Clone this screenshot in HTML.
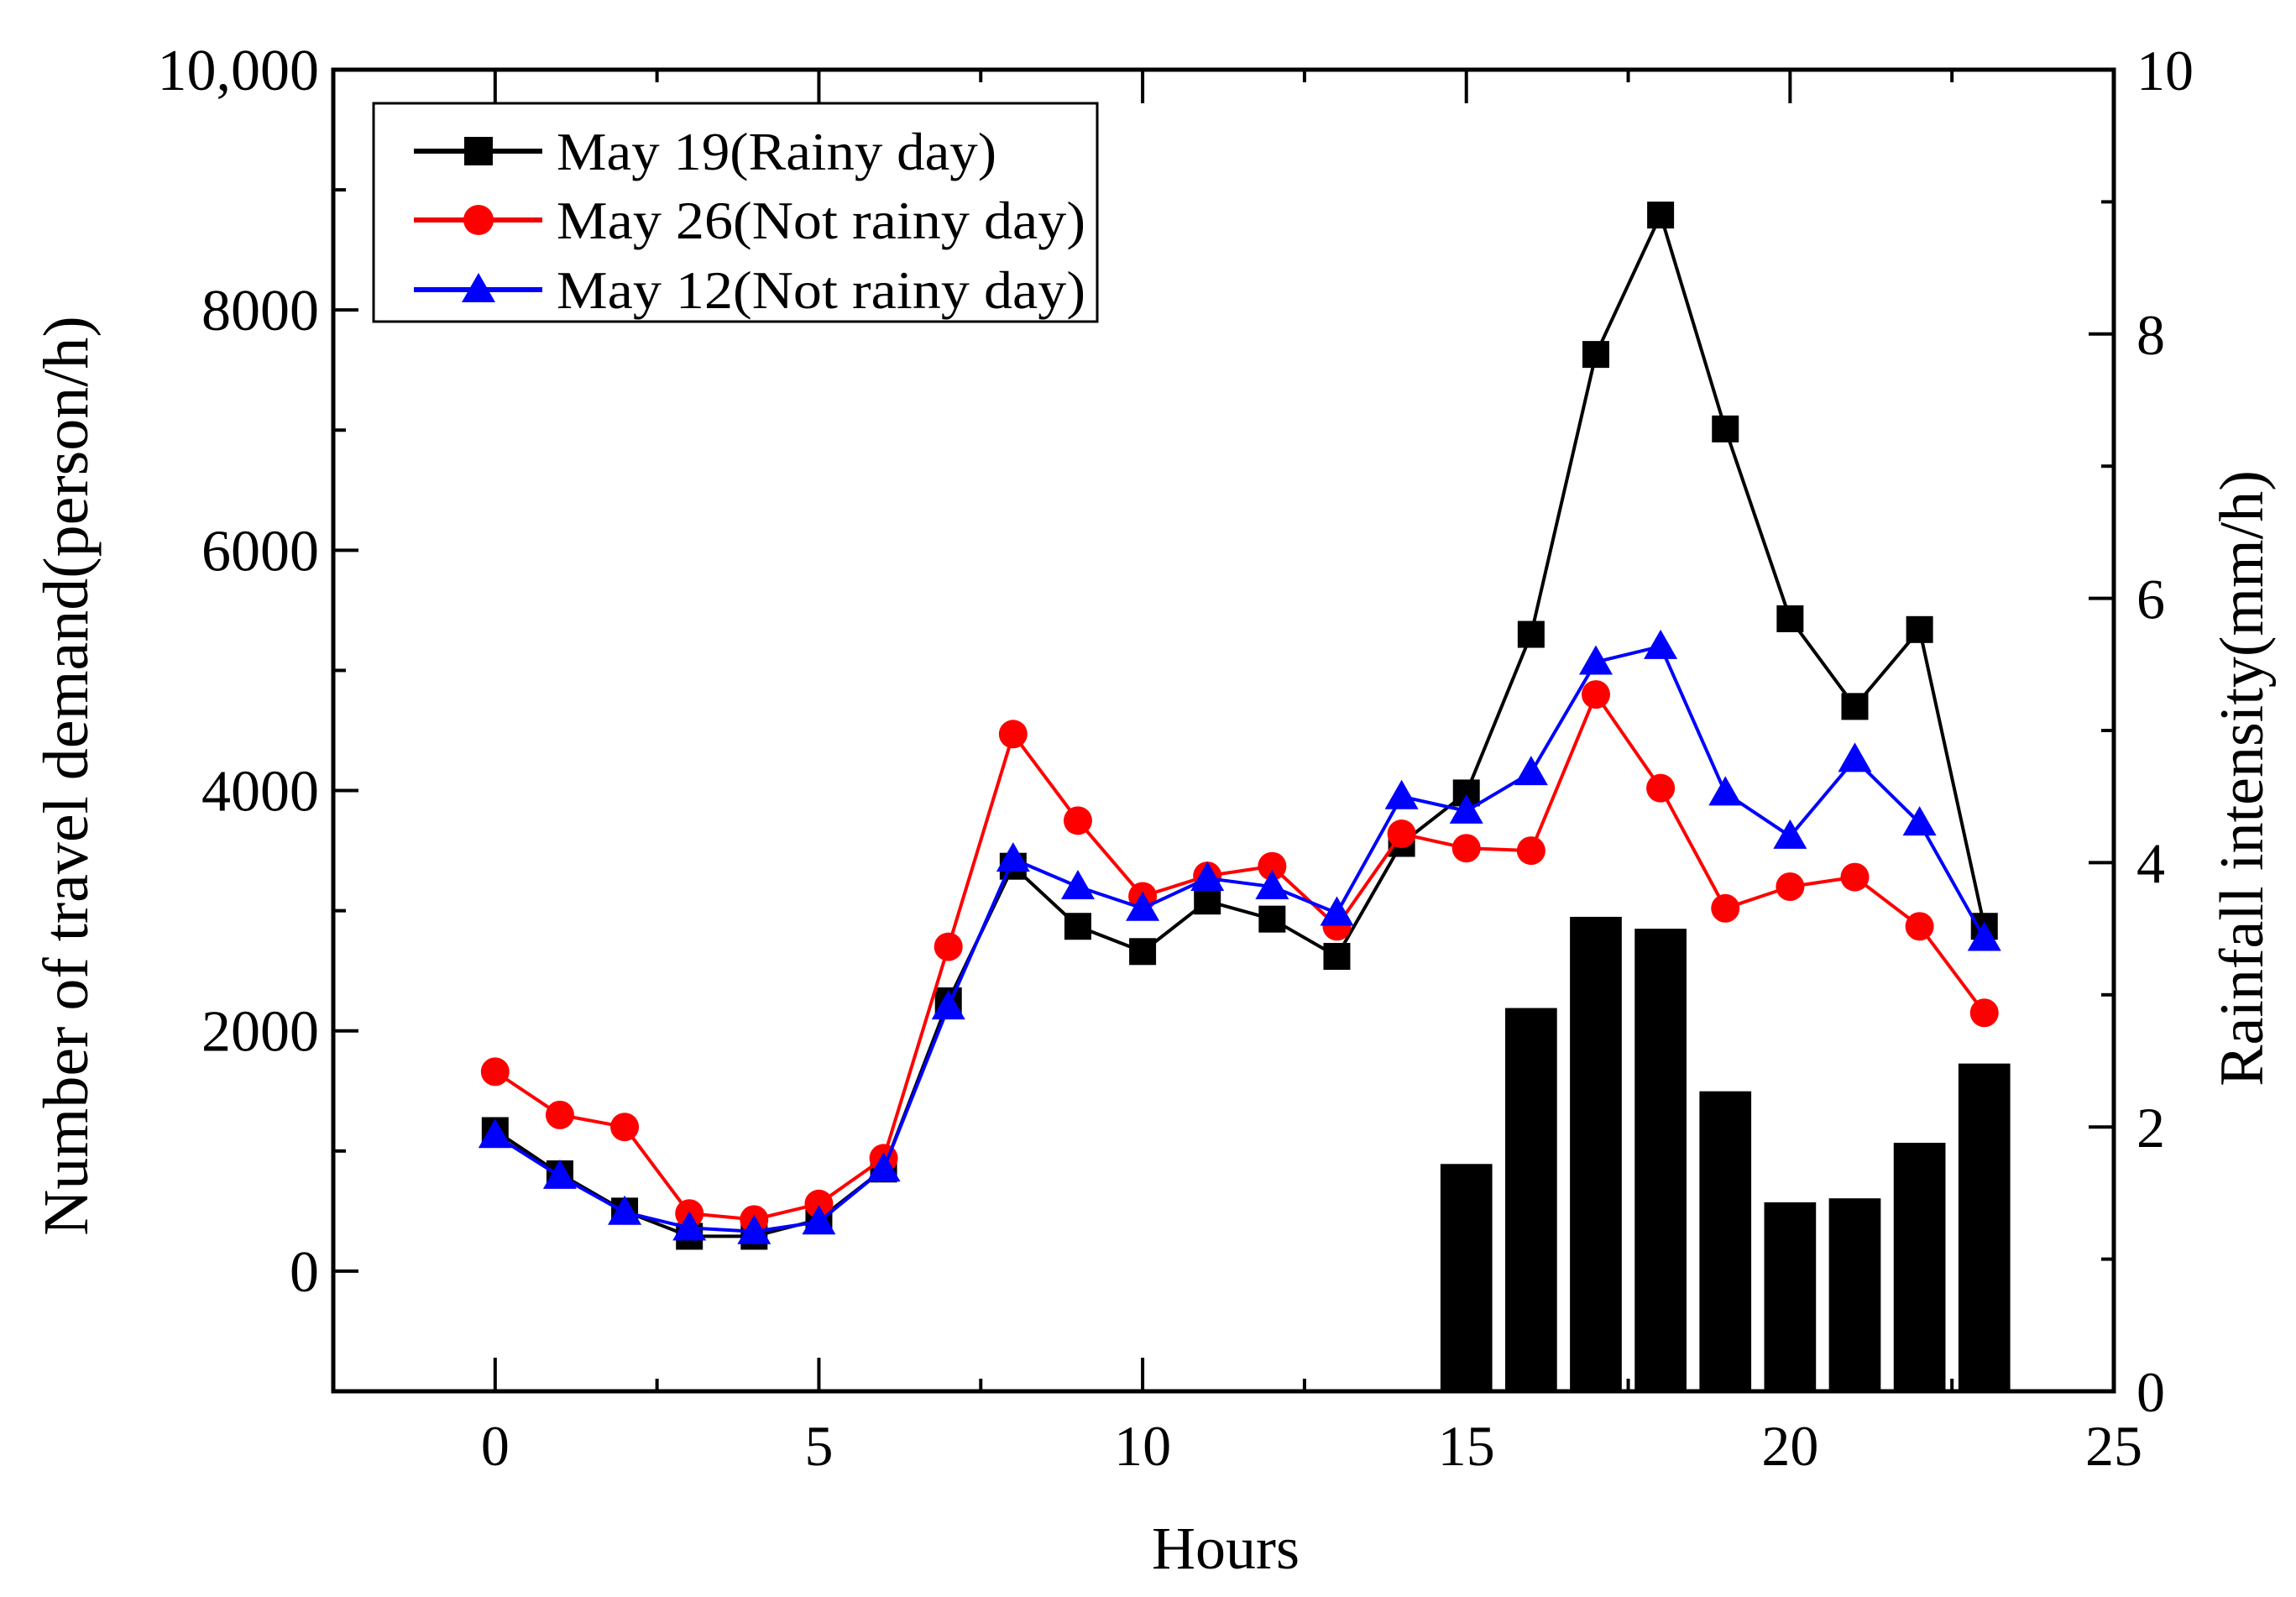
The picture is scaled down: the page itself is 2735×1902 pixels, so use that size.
<!DOCTYPE html>
<html><head><meta charset="utf-8"><style>
html,body{margin:0;padding:0;background:#fff;}
svg{display:block;font-family:"Liberation Serif",serif;}
</style></head><body>
<svg id="chart" width="2735" height="1902" viewBox="0 0 2735 1902">
<g id="bars"></g>
<g id="axes"></g>
<g id="series"></g>
<g>
<rect x="445" y="123" width="862" height="260" fill="#fff" stroke="#000" stroke-width="3"/>
<g>
<line x1="493" y1="180" x2="646" y2="180" stroke="#000" stroke-width="6"/>
<rect x="553" y="163" width="34" height="34" fill="#000"/>
<text x="663" y="202" font-size="64" textLength="524" lengthAdjust="spacingAndGlyphs">May 19(Rainy day)</text></g>
<g>
<line x1="493" y1="262" x2="646" y2="262" stroke="#e00" stroke-width="6"/>
<circle cx="570" cy="262" r="18" fill="#f00"/>
<text x="663" y="284" font-size="64" textLength="630" lengthAdjust="spacingAndGlyphs">May 26(Not rainy day)</text></g>
<g>
<line x1="493" y1="345" x2="646" y2="345" stroke="#00f" stroke-width="6"/>
<polygon points="570,325 590,360 550,360" fill="#00f"/>
<text x="663" y="367" font-size="64" textLength="630" lengthAdjust="spacingAndGlyphs">May 12(Not rainy day)</text></g>
</g>
<text x="1460" y="1868" font-size="72" text-anchor="middle">Hours</text>
<text transform="translate(104,924) rotate(-90)" font-size="76" text-anchor="middle">Number of travel demand(person/h)</text>
<text transform="translate(2695,927) rotate(-90)" font-size="74" text-anchor="middle">Rainfall intensity(mm/h)</text>
</svg>
<script>
const hours=[0,1,2,3,4,5,6,7,8,9,10,11,12,13,14,15,16,17,18,19,20,21,22,23];
const may19=[1170,810,500,290,290,430,850,2250,3370,2870,2660,3080,2930,2620,3560,3980,5300,7630,8790,7010,5430,4700,5340,2870];
const may26=[1660,1300,1200,480,430,560,940,2700,4470,3750,3120,3290,3370,2870,3640,3520,3500,4800,4020,3020,3200,3280,2870,2150];
const may12=[1130,790,490,360,330,410,850,2200,3430,3200,3020,3270,3200,2980,3950,3830,4150,5070,5200,3980,3620,4260,3730,2770];
const rainHours=[15,16,17,18,19,20,21,22,23];
const rainfall=[1.72,2.9,3.59,3.5,2.27,1.43,1.46,1.88,2.48];
const xTicks=[0,5,10,15,20,25];
const yTicks=[0,2000,4000,6000,8000,10000];
const yTickLabels=["0","2000","4000","6000","8000","10,000"];
const y2Ticks=[0,2,4,6,8,10];

const L=397,R=2518,T=83,B=1657;
const X=v=>L+(v+2.5)/27.5*(R-L);
const Y=v=>B-(v+1000)/11000*(B-T);
const Y2=v=>B-v/10*(B-T);
const NS='http://www.w3.org/2000/svg';
function mk(tag,attrs,parent){const e=document.createElementNS(NS,tag);for(const k in attrs)e.setAttribute(k,attrs[k]);parent.appendChild(e);return e;}
const axes=document.getElementById('axes'),bars=document.getElementById('bars'),series=document.getElementById('series');

rainHours.forEach((h,i)=>{
 const w=0.8*(X(1)-X(0));
 const r=mk('rect',{x:X(h)-w/2,y:Y2(rainfall[i]),width:w,height:B-Y2(rainfall[i]),fill:'#000'},bars);
 
 
});

const frame=mk('rect',{x:L,y:T,width:R-L,height:B-T,fill:'none',stroke:'#000','stroke-width':5},axes);


for(let v=-2.5;v<=25.01;v+=2.5){
 const major=Math.abs(v%5)<0.01, len=major?40:15;
 mk('line',{x1:X(v),y1:B,x2:X(v),y2:B-len,stroke:'#000','stroke-width':4},axes);
 mk('line',{x1:X(v),y1:T,x2:X(v),y2:T+len,stroke:'#000','stroke-width':4},axes);
}
xTicks.forEach(v=>{
 const t=mk('text',{x:X(v),y:1745,'font-size':68,'text-anchor':'middle'},axes);t.textContent=v;
 
 
});
for(let v=-1000;v<=10000;v+=1000){
 const major=v%2000===0, len=major?30:15;
 mk('line',{x1:L,y1:Y(v),x2:L+len,y2:Y(v),stroke:'#000','stroke-width':4},axes);
}
yTicks.forEach((v,i)=>{
 const t=mk('text',{x:380,y:Y(v)+24,'font-size':70,'text-anchor':'end'},axes);t.textContent=yTickLabels[i];
 
 
});
for(let v=0;v<=10;v+=1){
 const len=v%2===0?30:15;
 mk('line',{x1:R,y1:Y2(v),x2:R-len,y2:Y2(v),stroke:'#000','stroke-width':4},axes);
}
y2Ticks.forEach(v=>{
 const t=mk('text',{x:2545,y:Y2(v)+24,'font-size':68},axes);t.textContent=v;
 
 
});

function drawSeries(vals,color,marker,name){
 const g=mk('g',{},series);
 
 
 mk('polyline',{points:vals.map((v,i)=>X(hours[i])+','+Y(v)).join(' '),fill:'none',stroke:color,'stroke-width':4},g);
 vals.forEach((v,i)=>{
  const cx=X(hours[i]),cy=Y(v);let m;
  if(marker==='sq')m=mk('rect',{x:cx-16,y:cy-16,width:32,height:32,fill:color},g);
  else if(marker==='c')m=mk('circle',{cx:cx,cy:cy,r:17,fill:color},g);
  else m=mk('polygon',{points:`${cx},${cy-20} ${cx+20},${cy+15} ${cx-20},${cy+15}`,fill:color},g);
  
  
 });
}
drawSeries(may19,'#000','sq','series-may19');
drawSeries(may26,'#f00','c','series-may26');
drawSeries(may12,'#00f','t','series-may12');
</script>
</body></html>
